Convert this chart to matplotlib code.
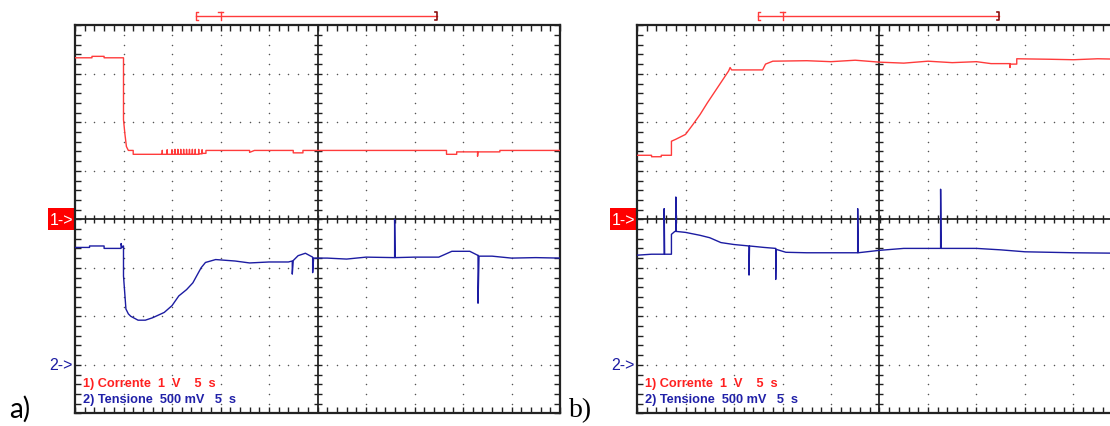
import numpy as np
import matplotlib
matplotlib.use("Agg")
import matplotlib.pyplot as plt
from matplotlib.patches import Rectangle

ch1_a_x = [0.0, 0.35, 0.35, 0.6, 0.6, 1.0, 1.0, 1.03, 1.06, 1.1, 1.2, 1.2, 1.75,
           1.8, 1.8, 1.8, 1.9, 1.9, 1.9, 2.0, 2.0, 2.0, 2.06, 2.06, 2.06, 2.12, 2.12, 2.12,
           2.18, 2.18, 2.18, 2.24, 2.24, 2.24, 2.3, 2.3, 2.3, 2.36, 2.36, 2.36, 2.42, 2.42, 2.42,
           2.48, 2.48, 2.48, 2.55, 2.55, 2.55, 2.62, 2.62, 2.62, 2.7, 2.7, 2.74,
           2.74, 3.6, 3.6, 3.7, 4.5, 4.5, 4.7, 4.7, 7.66, 7.66, 7.87, 7.87, 8.3, 8.3, 8.31, 8.76, 8.76, 10.0]
ch1_a_y = [3.33, 3.33, 3.36, 3.36, 3.33, 3.33, 2.05, 1.75, 1.5, 1.42, 1.42, 1.34, 1.34,
           1.34, 1.42, 1.34, 1.34, 1.43, 1.34, 1.34, 1.43, 1.34, 1.34, 1.44, 1.34, 1.34, 1.44, 1.34,
           1.34, 1.44, 1.34, 1.34, 1.44, 1.34, 1.34, 1.44, 1.34, 1.34, 1.44, 1.34, 1.34, 1.44, 1.34,
           1.34, 1.44, 1.34, 1.34, 1.44, 1.35, 1.35, 1.43, 1.36, 1.36, 1.42, 1.42,
           1.42, 1.42, 1.38, 1.42, 1.42, 1.37, 1.37, 1.42, 1.42, 1.34, 1.34, 1.39, 1.39, 1.30, 1.39, 1.39, 1.42, 1.42]

ch2_a_x = [0.0, 0.3, 0.3, 0.6, 0.6, 0.95, 0.95, 0.97, 1.0, 1.0, 1.05, 1.1, 1.15, 1.3, 1.45, 1.6, 1.84,
           2.0, 2.14, 2.3, 2.43, 2.6, 2.69, 2.9, 3.3, 3.6, 4.0, 4.4, 4.48, 4.48, 4.5, 4.6, 4.75,
           4.9, 4.9, 4.92, 5.2, 5.6, 6.0, 6.59, 6.59, 6.6, 7.0, 7.5, 7.77, 8.14, 8.3, 8.31, 8.31,
           8.33, 8.6, 9.0, 9.5, 10.0]
ch2_a_y = [-0.58, -0.58, -0.55, -0.55, -0.6, -0.6, -0.5, -0.58, -0.55, -1.17, -1.85, -1.95, -2.0, -2.08,
           -2.08, -2.03, -1.92, -1.78, -1.58, -1.45, -1.31, -1.0, -0.89, -0.83, -0.86, -0.9, -0.88, -0.88,
           -0.86, -1.13, -0.85, -0.75, -0.7, -0.78, -1.1, -0.8, -0.8, -0.82, -0.78, -0.79, 0.0, -0.79,
           -0.78, -0.78, -0.66, -0.66, -0.74, -0.74, -1.73, -0.76, -0.76, -0.8, -0.79, -0.8]

ch1_b_x = [0.0, 0.3, 0.3, 0.5, 0.5, 0.71, 0.71, 0.8, 1.0, 1.15, 1.3, 1.45, 1.59, 1.75, 1.89, 1.92,
           1.95, 2.59, 2.65, 2.8, 3.5, 4.0, 4.5, 5.0, 5.5, 6.0, 6.5, 7.0, 7.3, 7.69, 7.69, 7.7,
           7.83, 7.83, 8.5, 9.0, 9.5, 10.0]
ch1_b_y = [1.32, 1.32, 1.29, 1.29, 1.32, 1.32, 1.61, 1.65, 1.75, 1.95, 2.16, 2.4, 2.61, 2.85, 3.06, 3.13,
           3.08, 3.08, 3.2, 3.26, 3.27, 3.25, 3.28, 3.24, 3.22, 3.26, 3.23, 3.25, 3.21, 3.21, 3.13, 3.2,
           3.2, 3.31, 3.30, 3.29, 3.31, 3.30]

ch2_b_x = [0.0, 0.3, 0.56, 0.56, 0.57, 0.71, 0.71, 0.78, 0.8, 0.8, 0.81, 1.0, 1.3, 1.5, 1.73, 2.0,
           2.31, 2.31, 2.32, 2.62, 2.86, 2.86, 2.87, 3.07, 3.5, 4.0, 4.55, 4.55, 4.56, 5.0, 5.5,
           6.26, 6.26, 6.27, 7.0, 7.5, 8.0, 8.5, 9.0, 10.0]
ch2_b_y = [-0.74, -0.72, -0.72, 0.22, -0.72, -0.72, -0.31, -0.25, -0.25, 0.46, -0.25, -0.27, -0.33,
           -0.38, -0.48, -0.52, -0.55, -1.15, -0.55, -0.58, -0.6, -1.24, -0.62, -0.68, -0.69, -0.69,
           -0.69, 0.22, -0.69, -0.64, -0.6, -0.6, 0.62, -0.6, -0.6, -0.63, -0.67, -0.68, -0.69, -0.7]

label1 = "1) Corrente  1  V    5  s"
label2 = "2) Tensione  500 mV   5  s"

RED = "#ff3b3b"
BLUE = "#1c1ca2"
W, H = 1110, 427
DIV = 48.5


def screen(ax, cx, cy, c2x, c2y, tag, tag_font):
    ax.set_xlim(0, 10)
    ax.set_ylim(-4, 4)
    for s in ax.spines.values():
        s.set_linewidth(1.6)
        s.set_color("#222222")
    ax.set_xticks(np.arange(0, 11, 1))
    ax.set_yticks(np.arange(-4, 5, 1))
    ax.set_xticks(np.arange(0, 10.01, 0.2), minor=True)
    ax.set_yticks(np.arange(-4, 4.01, 0.2), minor=True)
    ax.tick_params(which="both", direction="in", length=4, width=1.0, color="#222222",
                   top=True, right=True, labelbottom=False, labelleft=False)

    # dotted graticule
    xs = np.arange(0.2, 10, 0.2)
    ys = np.arange(-3.8, 4, 0.2)
    for yv in [-3, -2, -1, 1, 2, 3]:
        ax.scatter(xs, np.full_like(xs, yv), s=1.2, color="#555555", lw=0, zorder=1)
    for xv in [1, 2, 3, 4, 6, 7, 8, 9]:
        ax.scatter(np.full_like(ys, xv), ys, s=1.2, color="#555555", lw=0, zorder=1)

    # centre cross with ticks
    ax.axhline(0, color="#222222", lw=1.3, zorder=2)
    ax.axvline(5, color="#222222", lw=1.3, zorder=2)
    ax.plot(np.arange(0.2, 10, 0.2), np.zeros(49), ls="none", marker="|", ms=6,
            mew=1.0, color="#222222", zorder=2)
    ax.plot(np.full(39, 5.0), np.arange(-3.8, 4, 0.2), ls="none", marker="_", ms=6,
            mew=1.0, color="#222222", zorder=2)

    # traces
    ax.plot(cx, cy, color=RED, lw=1.0, zorder=3)
    ax.plot(c2x, c2y, color=BLUE, lw=1.0, zorder=3)

    # trigger bar above the screen
    yb = 4.19
    ax.plot([2.5, 7.46], [yb, yb], color=RED, lw=1.0, clip_on=False)
    ax.plot([2.54, 2.5, 2.5, 2.54], [yb + 0.09, yb + 0.09, yb - 0.09, yb - 0.09],
            color=RED, lw=1.0, clip_on=False)
    ax.plot([7.42, 7.46, 7.46, 7.42], [yb + 0.09, yb + 0.09, yb - 0.09, yb - 0.09],
            color="#8a1010", lw=1.2, clip_on=False)
    ax.plot([3.0, 3.0], [yb - 0.09, yb + 0.09], color=RED, lw=1.0, clip_on=False)
    ax.plot([2.94, 3.06], [yb + 0.09, yb + 0.09], color=RED, lw=1.0, clip_on=False)

    # channel markers
    ax.add_patch(Rectangle((-0.55, -0.22), 0.53, 0.45, color="#ff0000", clip_on=False, lw=0))
    ax.text(-0.285, 0.0, "1->", color="white", fontsize=11.5, ha="center", va="center",
            family="Liberation Sans", clip_on=False)
    ax.text(-0.04, -3.0, "2->", color=BLUE, fontsize=11.5, ha="right", va="center",
            family="Liberation Sans", clip_on=False)

    ax.text(0.16, -3.38, label1, color="#ff2020", fontsize=9.2, ha="left", va="center",
            family="Liberation Sans", fontweight="bold")
    ax.text(0.16, -3.7, label2, color="#2020a8", fontsize=9.2, ha="left", va="center",
            family="Liberation Sans", fontweight="bold")

    ax.text(-0.92, -4.18, tag, fontsize=20, ha="right", va="bottom", family=tag_font,
            clip_on=False)


fig = plt.figure(figsize=(W / 100, H / 100), dpi=100)
bottom = (H - 414.3) / H
height = 8 * DIV / H
ax_a = fig.add_axes([75 / W, bottom, 10 * DIV / W, height])
ax_b = fig.add_axes([637 / W, bottom, 10 * DIV / W, height])

screen(ax_a, ch1_a_x, ch1_a_y, ch2_a_x, ch2_a_y, "a)", "Lato")
screen(ax_b, ch1_b_x, ch1_b_y, ch2_b_x, ch2_b_y, "b)", "Liberation Serif")

fig.savefig("out.png", dpi=100)
